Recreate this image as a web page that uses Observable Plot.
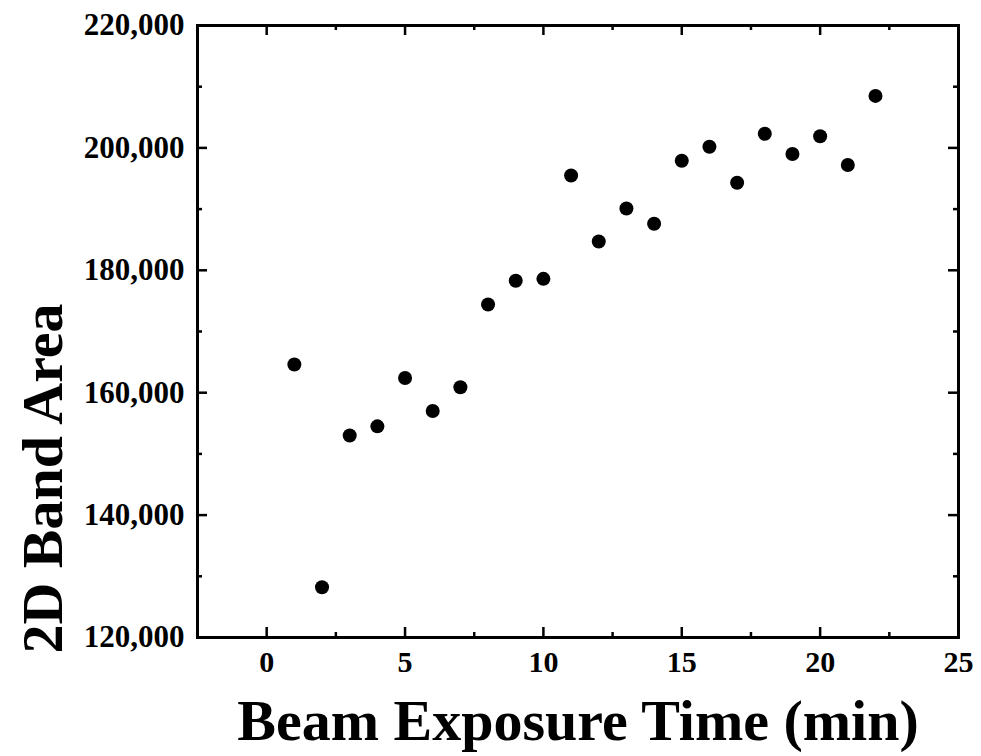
<!DOCTYPE html>
<html>
<head>
<meta charset="utf-8">
<script src="https://cdn.jsdelivr.net/npm/d3@7"></script>
<script src="https://cdn.jsdelivr.net/npm/@observablehq/plot@0.6"></script>
<style>
  html, body { margin: 0; padding: 0; background: #fff; }
  #chart svg { display: block; }
</style>
</head>
<body>
<div id="chart"></div>
<script>
const time = [1, 2, 3, 4, 5, 6, 7, 8, 9, 10, 11, 12, 13, 14, 15, 16, 17, 18, 19, 20, 21, 22];
const area = [164600, 128200, 153000, 154500, 162400, 157000, 160900, 174400, 178300, 178600, 195500, 184700, 190100, 187600, 197900, 200200, 194300, 202300, 199000, 201900, 197200, 208500];
const xMajor = [0, 5, 10, 15, 20, 25];
const xMinor = [2.5, 7.5, 12.5, 17.5, 22.5];
const yMajor = [120000, 140000, 160000, 180000, 200000, 220000];
const yMinor = [130000, 150000, 170000, 190000, 210000];
const xTitle = "Beam Exposure Time (min)";
const yTitle = "2D Band Area";

const data = time.map((t, i) => ({t, a: area[i]}));

const W = 981, H = 756;
const mL = 197, mR = 23, mT = 25, mB = 119;
const innerW = W - mL - mR, innerH = H - mT - mB;
const font = "'Liberation Serif', 'Times New Roman', serif";
const majorLen = 10, minorLen = 5;

const chart = Plot.plot({
  width: W,
  height: H,
  marginLeft: mL,
  marginRight: mR,
  marginTop: mT,
  marginBottom: mB,
  x: {domain: [-2.5, 25], axis: null},
  y: {domain: [120000, 220000], axis: null},
  style: {fontFamily: font, background: "#fff"},
  marks: [
    // ticks (inward) bottom/top
    Plot.tickX(xMajor, {x: d => d, insetTop: innerH - majorLen, stroke: "#000", strokeWidth: 2.5}),
    Plot.tickX(xMajor, {x: d => d, insetBottom: innerH - majorLen, stroke: "#000", strokeWidth: 2.5}),
    Plot.tickX(xMinor, {x: d => d, insetTop: innerH - minorLen, stroke: "#000", strokeWidth: 2.5}),
    Plot.tickX(xMinor, {x: d => d, insetBottom: innerH - minorLen, stroke: "#000", strokeWidth: 2.5}),
    // ticks left/right
    Plot.tickY(yMajor, {y: d => d, insetRight: innerW - majorLen, stroke: "#000", strokeWidth: 2.5}),
    Plot.tickY(yMajor, {y: d => d, insetLeft: innerW - majorLen, stroke: "#000", strokeWidth: 2.5}),
    Plot.tickY(yMinor, {y: d => d, insetRight: innerW - minorLen, stroke: "#000", strokeWidth: 2.5}),
    Plot.tickY(yMinor, {y: d => d, insetLeft: innerW - minorLen, stroke: "#000", strokeWidth: 2.5}),
    Plot.frame({stroke: "#000", strokeWidth: 3}),
    // tick labels
    Plot.text(xMajor, {x: d => d, frameAnchor: "bottom", dy: 34, text: d => String(d),
      fontSize: 30, fontWeight: "bold", fill: "#000"}),
    Plot.text(yMajor, {y: d => d, frameAnchor: "left", dx: -13, textAnchor: "end",
      text: d => d3.format(",")(d), fontSize: 31, fontWeight: "bold", fill: "#000"}),
    // titles
    Plot.text([xTitle], {frameAnchor: "bottom", dy: 102, text: d => d,
      fontSize: 58, fontWeight: "bold", fill: "#000"}),
    Plot.text([yTitle], {frameAnchor: "left", textAnchor: "middle", dx: -154, dy: 147, rotate: -90, text: d => d,
      fontSize: 58, fontWeight: "bold", fill: "#000"}),
    // data
    Plot.dot(data, {x: "t", y: "a", r: 7, fill: "#000", stroke: "none"})
  ]
});
document.getElementById("chart").appendChild(chart);
</script>
</body>
</html>
